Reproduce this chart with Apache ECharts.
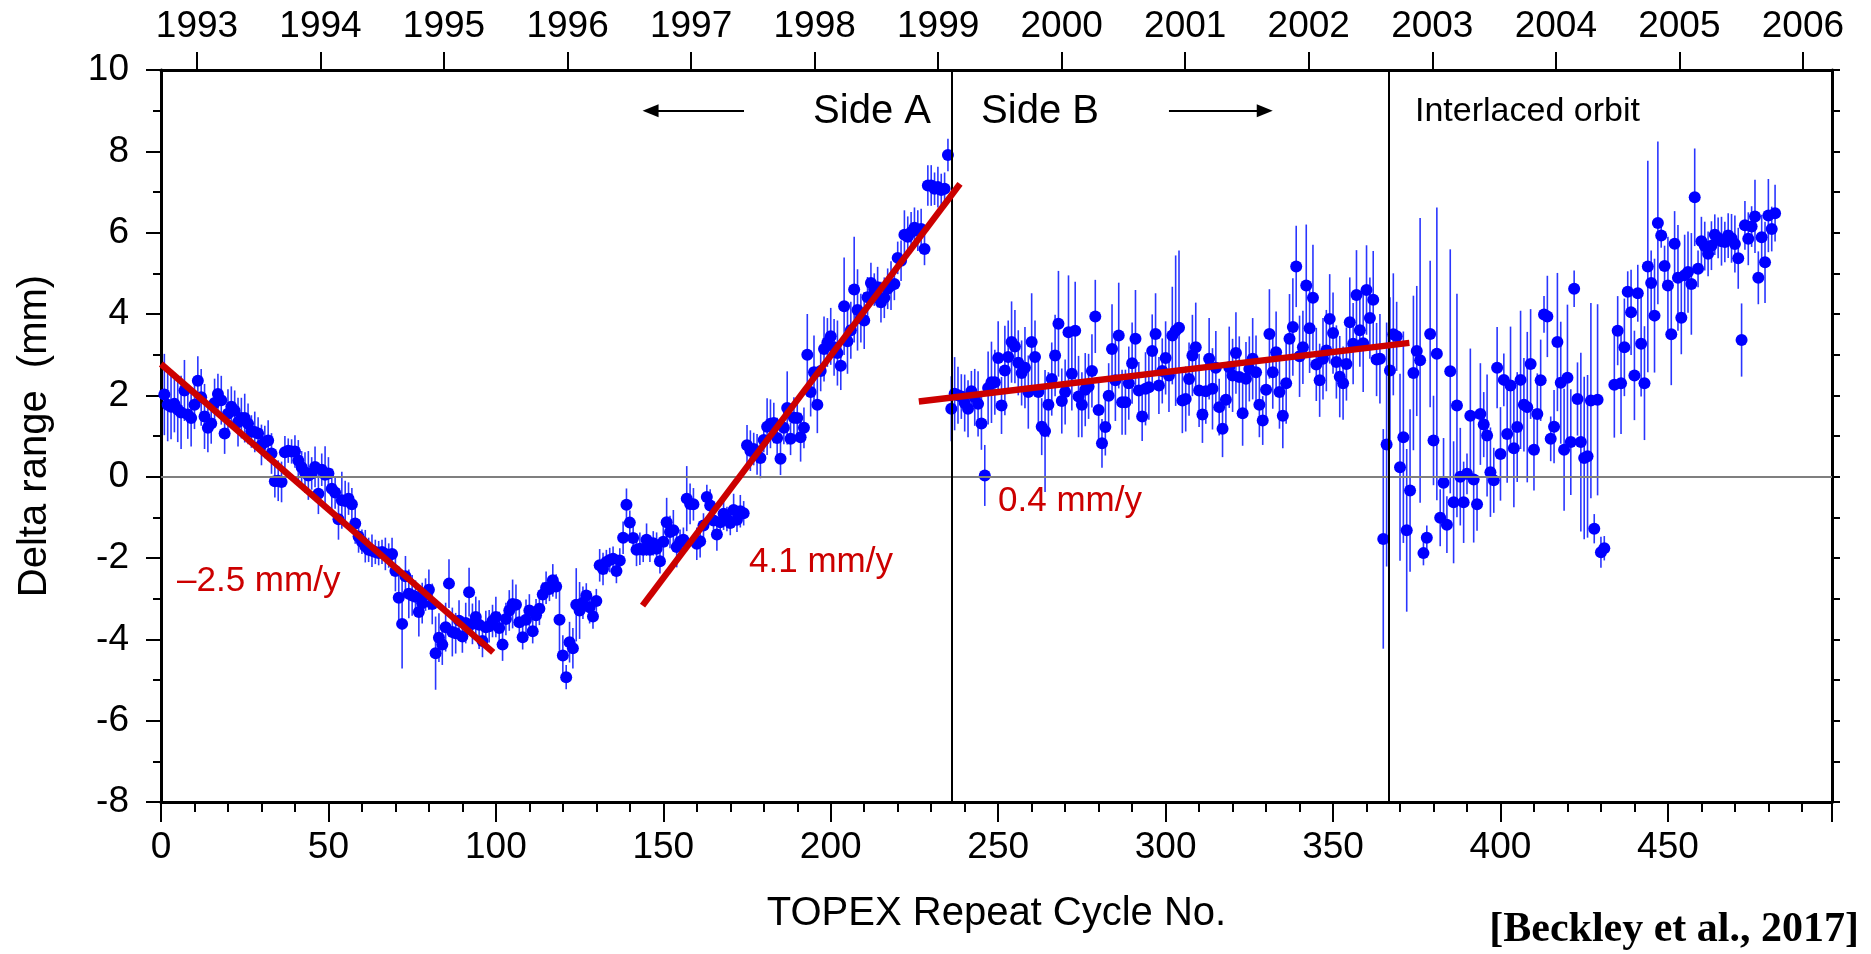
<!DOCTYPE html>
<html>
<head>
<meta charset="utf-8">
<script src="https://cdn.jsdelivr.net/npm/echarts@6/dist/echarts.min.js"></script>
<style>
html,body{margin:0;padding:0;background:#fff;}
#chart{width:1871px;height:954px;}
</style>
</head>
<body>
<div id="chart"></div>
<script>
// ---------------- DATA ----------------
// Side A : cycles 1 – 235
const sideAStart = 1;
const sideAValues = [
  2.02, 1.77, 1.72, 1.79, 1.65, 1.58, 2.12, 1.53, 1.44, 1.77,
  2.36, 1.95, 1.48, 1.20, 1.31, 1.81, 2.03, 1.88, 1.06, 1.55,
  1.72, 1.62, 1.34, 1.44, 1.44, 1.30, 1.11, 1.10, 1.06, 0.78,
  0.85, 0.89, 0.57, -0.11, -0.10, -0.13, 0.60, 0.64, 0.62, 0.62,
  0.40, 0.23, 0.10, 0.03, 0.08, 0.24, -0.42, 0.17, 0.05, 0.08,
  -0.30, -0.39, -1.05, -0.58, -0.60, -0.54, -0.68, -1.15, -1.47, -1.60,
  -1.71, -1.80, -1.82, -1.85, -1.88, -1.85, -1.90, -1.94, -1.90, -2.32,
  -2.98, -3.62, -2.45, -2.88, -2.92, -2.95, -3.33, -3.11, -2.90, -2.78,
  -3.13, -4.34, -3.96, -4.13, -3.70, -2.63, -3.82, -3.85, -3.54, -3.93,
  -3.60, -2.84, -3.62, -3.45, -3.64, -4.04, -3.70, -3.68, -3.55, -3.45,
  -3.72, -4.13, -3.50, -3.29, -3.13, -3.15, -3.58, -3.95, -3.52, -3.29,
  -3.80, -3.41, -3.25, -2.90, -2.73, -2.76, -2.55, -2.70, -3.52, -4.40,
  -4.93, -4.07, -4.22, -3.15, -3.29, -3.10, -2.92, -3.21, -3.44, -3.06,
  -2.18, -2.27, -2.10, -2.05, -2.02, -2.32, -2.06, -1.50, -0.69, -1.13,
  -1.51, -1.80, -1.77, -1.80, -1.55, -1.80, -1.64, -1.77, -2.08, -1.60,
  -1.12, -1.36, -1.32, -1.73, -1.60, -1.55, -0.54, -0.67, -0.68, -1.65,
  -1.59, -1.20, -0.50, -0.71, -1.08, -1.42, -1.12, -0.91, -1.04, -1.14,
  -0.82, -1.06, -0.85, -0.90, 0.77, 0.64, 0.68, 0.55, 0.46, 0.90,
  1.23, 1.30, 1.32, 0.95, 0.44, 1.20, 1.69, 0.93, 1.45, 1.44,
  0.97, 1.20, 3.00, 2.08, 2.57, 1.77, 2.60, 3.14, 3.30, 3.45,
  3.18, 3.04, 2.73, 4.19, 3.33, 3.60, 4.60, 4.10, 3.90, 3.84,
  4.41, 4.76, 4.60, 4.66, 4.29, 4.40, 4.62, 4.70, 4.74, 5.38,
  5.31, 5.95, 5.90, 6.01, 6.12, 6.05, 6.09, 5.60, 7.16, 7.16,
  7.08, 7.12, 7.05, 7.08, 7.91
];
const sideAErrors = [
  1.0, 0.9, 0.8, 0.7, 0.8, 0.9, 0.75, 0.6, 0.7, 0.6,
  0.6, 0.7, 0.8, 0.6, 0.5, 0.6, 0.5, 0.6, 0.5, 0.6,
  0.5, 0.5, 0.6, 0.5, 0.6, 0.5, 0.4, 0.5, 0.4, 0.5,
  0.4, 0.5, 0.5, 0.4, 0.5, 0.5, 0.4, 0.3, 0.3, 0.4,
  0.5, 0.4, 0.5, 0.6, 0.4, 0.5, 0.5, 0.4, 0.7, 0.4,
  0.5, 0.4, 0.5, 0.7, 0.5, 0.4, 0.4, 0.5, 0.4, 0.3,
  0.4, 0.3, 0.4, 0.3, 0.3, 0.3, 0.4, 0.3, 0.4, 0.5,
  0.6, 1.1, 0.5, 0.6, 0.5, 0.4, 0.6, 0.5, 0.4, 0.5,
  0.5, 0.9, 0.6, 0.5, 0.6, 0.6, 0.6, 0.5, 0.5, 0.4,
  0.5, 0.6, 0.5, 0.5, 0.6, 0.4, 0.4, 0.4, 0.4, 0.5,
  0.4, 0.4, 0.4, 0.5, 0.6, 0.5, 0.4, 0.3, 0.5, 0.4,
  0.3, 0.4, 0.4, 0.3, 0.4, 0.3, 0.4, 0.3, 0.9, 0.5,
  0.3, 0.5, 0.5, 0.9, 0.7, 0.4, 0.3, 0.4, 0.3, 0.3,
  0.4, 0.4, 0.3, 0.3, 0.3, 0.3, 0.3, 0.4, 0.4, 0.3,
  0.3, 0.4, 0.4, 0.3, 0.4, 0.3, 0.3, 0.4, 0.3, 0.4,
  0.6, 0.4, 0.5, 0.5, 0.3, 0.3, 0.8, 0.5, 0.4, 0.4,
  0.4, 0.3, 0.3, 0.4, 0.3, 0.4, 0.3, 0.4, 0.3, 0.3,
  0.4, 0.3, 0.4, 0.3, 0.5, 0.5, 0.4, 0.5, 0.5, 0.3,
  0.7, 0.6, 0.5, 0.5, 0.4, 0.4, 0.9, 0.4, 0.5, 0.5,
  0.6, 0.5, 1.0, 0.6, 0.9, 0.7, 0.5, 0.8, 0.6, 0.7,
  0.7, 0.8, 0.6, 1.2, 0.8, 0.7, 1.3, 1.0, 0.6, 0.7,
  0.5, 0.5, 0.4, 0.5, 0.5, 0.5, 0.5, 0.6, 0.4, 0.4,
  0.5, 0.6, 0.5, 0.5, 0.5, 0.5, 0.5, 0.4, 0.5, 0.5,
  0.4, 0.5, 0.4, 0.4, 0.4
];

// Side B : cycles 236 – 364
const sideBStart = 236;
const sideBValues = [
  1.67, 2.04, 2.00, 1.97, 1.81, 1.67, 2.10, 1.95, 1.79, 1.31,
  0.03, 2.18, 2.32, 2.32, 2.92, 1.75, 2.61, 2.94, 3.31, 3.20,
  2.80, 2.55, 2.68, 2.08, 3.31, 2.94, 2.08, 1.23, 1.12, 1.77,
  2.40, 2.98, 3.76, 1.86, 2.08, 3.55, 2.53, 3.59, 1.97, 1.77,
  2.14, 2.22, 2.60, 3.94, 1.64, 0.82, 1.22, 1.99, 3.14, 2.37,
  3.47, 1.83, 1.83, 2.30, 2.79, 3.39, 2.12, 1.48, 2.16, 2.20,
  3.09, 3.51, 2.24, 2.60, 2.92, 2.49, 3.47, 3.59, 3.66, 1.87,
  1.91, 2.40, 2.98, 3.18, 2.12, 1.53, 2.10, 2.90, 2.16, 2.68,
  1.71, 1.18, 1.89, 2.69, 2.49, 3.04, 2.45, 1.56, 2.41, 2.65,
  2.90, 2.57, 1.77, 1.38, 2.14, 3.51, 2.57, 3.06, 2.08, 1.50,
  2.30, 3.39, 3.68, 5.17, 2.96, 3.18, 4.70, 3.65, 4.40, 2.76,
  2.37, 2.90, 3.10, 3.88, 3.53, 2.82, 2.46, 2.30, 2.77, 3.80,
  3.27, 4.47, 3.60, 3.28, 4.59, 3.90, 4.35, 2.88, 2.90
];
const sideBErrors = [
  0.8, 0.9, 0.7, 0.55, 0.7, 0.7, 0.5, 0.7, 0.8, 0.65,
  0.75, 0.9, 1.0, 0.8, 0.9, 0.7, 1.1, 0.9, 1.0, 0.9,
  0.8, 0.8, 1.0, 0.9, 1.2, 0.9, 0.9, 0.7, 1.5, 0.8,
  0.9, 1.0, 1.3, 0.8, 0.8, 1.4, 0.9, 1.2, 1.0, 0.8,
  0.9, 0.8, 0.9, 0.9, 0.8, 0.6, 0.7, 0.8, 1.1, 1.0,
  1.3, 0.8, 0.8, 0.9, 1.0, 1.2, 0.7, 0.6, 0.9, 0.8,
  0.9, 1.0, 0.7, 0.8, 0.9, 0.9, 1.2, 1.85, 1.9, 0.8,
  0.8, 0.9, 1.0, 1.1, 0.9, 0.7, 0.8, 1.0, 1.0, 0.9,
  0.7, 0.7, 0.8, 1.0, 0.9, 1.0, 1.0, 0.8, 0.9, 0.8,
  1.0, 0.9, 0.8, 0.6, 0.8, 1.1, 0.9, 1.0, 0.9, 0.8,
  1.0, 1.1, 1.2, 1.0, 1.0, 0.9, 1.5, 1.1, 1.3, 0.9,
  0.9, 1.0, 1.0, 1.1, 1.0, 0.9, 1.0, 0.9, 0.9, 1.1,
  1.0, 1.1, 0.9, 1.2, 1.1, 1.0, 1.2, 0.9, 1.1
];

// Interlaced orbit : cycles 365 – 431 and 434 – 482
const interlacedAStart = 365;
const interlacedAValues = [
  -1.53, 0.79, 2.61, 3.50, 3.45, 0.23, 0.97, -1.32, -0.34, 2.55,
  3.09, 2.86, -1.88, -1.50, 3.51, 0.89, 3.02, -1.01, -0.15, -1.18,
  2.59, -0.63, 1.75, 0.00, -0.63, 0.07, 1.50, -0.07, -0.68, 1.54,
  1.28, 1.01, 0.11, -0.09, 2.68, 0.56, 2.38, 1.05, 2.24, 0.70,
  1.22, 2.38, 1.77, 1.71, 2.77, 0.66, 1.54, 2.37, 3.99, 3.94,
  0.93, 1.23, 3.31, 2.31, 0.66, 2.43, 0.85, 4.62, 1.91, 0.85,
  0.46, 0.50, 1.87, -1.28, 1.89, -1.86, -1.76
];
const interlacedAErrors = [
  2.7, 3.0, 1.8, 1.5, 0.85, 2.3, 2.6, 2.0, 2.0, 1.9,
  1.6, 3.5, 0.3, 0.3, 1.8, 1.1, 3.6, 0.7, 1.1, 0.7,
  3.0, 1.5, 2.75, 1.2, 1.0, 0.5, 1.65, 1.55, 0.65, 1.25,
  0.8, 1.5, 1.1, 0.8, 1.0, 1.15, 0.65, 1.2, 1.45, 1.45,
  1.35, 1.7, 1.15, 1.85, 1.35, 1.0, 1.0, 1.0, 0.45, 1.0,
  0.55, 0.9, 1.7, 1.5, 1.5, 1.8, 1.3, 0.45, 0.9, 2.2,
  2.0, 2.0, 2.4, 0.36, 2.35, 0.38, 0.3
];
const interlacedBStart = 434;
const interlacedBValues = [
  2.26, 3.59, 2.30, 3.18, 4.55, 4.04, 2.49, 4.51, 3.27, 2.30,
  5.17, 4.76, 3.96, 6.24, 5.93, 5.18, 4.70, 3.50, 5.73, 4.89,
  3.91, 4.95, 5.03, 4.74, 6.87, 5.11, 5.79, 5.67, 5.48, 5.68,
  5.95, 5.87, 5.79, 5.77, 5.93, 5.86, 5.72, 5.37, 3.36, 6.18,
  5.85, 6.15, 6.40, 4.89, 5.89, 5.27, 6.42, 6.09, 6.48
];
const interlacedBErrors = [
  1.3, 0.85, 1.25, 1.2, 0.5, 1.05, 1.1, 0.7, 1.3, 1.4,
  2.6, 0.8, 1.4, 2.0, 0.3, 0.5, 1.2, 1.25, 0.8, 1.3,
  0.9, 1.0, 1.0, 1.25, 1.2, 0.45, 0.6, 0.6, 0.55, 0.6,
  0.5, 0.5, 0.6, 0.5, 0.55, 0.6, 0.7, 0.75, 0.9, 0.6,
  0.65, 0.5, 0.9, 0.65, 0.55, 1.0, 0.9, 0.55, 0.7
];

// Linear trends (cycle, mm)
const trendLines = [
  { rate: '–2.5 mm/y', start: [0, 2.77],      end: [99.2, -4.32] },
  { rate: '4.1 mm/y',  start: [143.8, -3.17], end: [238.6, 7.20] },
  { rate: '0.4 mm/y',  start: [226.3, 1.85],  end: [372.8, 3.29] }
];

// Events (cycle number)
const sideSwitchCycle = 236.2;
const interlacedCycle = 366.7;

// Axes
const cycleMin = 0, cycleMax = 499, cycleTickStep = 50;
const deltaMin = -8, deltaMax = 10, deltaLabelStep = 2;
const yearTicks = [1993, 1994, 1995, 1996, 1997, 1998, 1999, 2000, 2001, 2002, 2003, 2004, 2005, 2006];
const yearAtCycleZero = 1992.7089;
const cyclesPerYear = 36.89;

// ---------------- CHART ----------------
function segment(start, values, errors) {
  return values.map((v, i) => [start + i, v, errors[i]]);
}
const points = [].concat(
  segment(sideAStart, sideAValues, sideAErrors),
  segment(sideBStart, sideBValues, sideBErrors),
  segment(interlacedAStart, interlacedAValues, interlacedAErrors),
  segment(interlacedBStart, interlacedBValues, interlacedBErrors)
);

const FONT = "'Liberation Sans', Arial, Helvetica, sans-serif";
const RED = '#cc0000';
const chart = echarts.init(document.getElementById('chart'), null, { renderer: 'canvas' });

const yearMin = yearAtCycleZero;
const yearMax = yearAtCycleZero + cycleMax / cyclesPerYear;

const trendSeries = trendLines.map(t => ({
  type: 'line',
  name: t.rate,
  data: [t.start, t.end],
  symbol: 'none',
  silent: true,
  z: 6,
  lineStyle: { color: RED, width: 6.5, cap: 'butt' }
}));

const option = {
  animation: false,
  backgroundColor: '#ffffff',
  grid: { left: 161, right: 39, top: 70, bottom: 152, containLabel: false, outerBoundsMode: 'none' },
  xAxis: [
    {
      type: 'value', position: 'bottom', min: cycleMin, max: cycleMax, interval: cycleTickStep,
      name: 'TOPEX Repeat Cycle No.', nameLocation: 'middle', nameGap: 92,
      nameTextStyle: { fontFamily: FONT, fontSize: 40, color: '#000' },
      axisLine: { show: true, onZero: false, lineStyle: { color: '#000', width: 3 } },
      axisTick: { show: true, inside: false, length: 20, lineStyle: { color: '#000', width: 2 } },
      minorTick: { show: true, splitNumber: 5, length: 10, lineStyle: { color: '#000', width: 2 } },
      axisLabel: { fontFamily: FONT, fontSize: 37, color: '#000', margin: 27, showMaxLabel: false },
      splitLine: { show: false }
    },
    {
      type: 'value', position: 'top', min: yearMin, max: yearMax,
      axisLine: { show: true, onZero: false, lineStyle: { color: '#000', width: 3 } },
      axisTick: { show: true, inside: false, length: 18, customValues: yearTicks, lineStyle: { color: '#000', width: 2 } },
      axisLabel: { fontFamily: FONT, fontSize: 37, color: '#000', margin: 25, customValues: yearTicks,
        formatter: v => String(Math.round(v)) },
      splitLine: { show: false }
    }
  ],
  yAxis: [
    {
      type: 'value', position: 'left', min: deltaMin, max: deltaMax, interval: deltaLabelStep,
      name: 'Delta range  (mm)', nameLocation: 'middle', nameGap: 106, nameRotate: 90,
      nameTextStyle: { fontFamily: FONT, fontSize: 40, color: '#000' },
      axisLine: { show: true, onZero: false, lineStyle: { color: '#000', width: 3 } },
      axisTick: { show: true, inside: false, length: 15, lineStyle: { color: '#000', width: 2 } },
      minorTick: { show: true, splitNumber: 2, length: 8, lineStyle: { color: '#000', width: 2 } },
      axisLabel: { fontFamily: FONT, fontSize: 37, color: '#000', margin: 32 },
      splitLine: { show: false }
    },
    {
      type: 'value', position: 'right', min: deltaMin, max: deltaMax, interval: 1,
      axisLine: { show: true, onZero: false, lineStyle: { color: '#000', width: 3 } },
      axisTick: { show: true, inside: false, length: 8, lineStyle: { color: '#000', width: 2 } },
      axisLabel: { show: false },
      splitLine: { show: false }
    }
  ],
  series: [
    {
      // reference lines: zero, Side A/B switch, interlaced orbit start
      type: 'line', data: [], silent: true, z: 1,
      markLine: {
        silent: true, symbol: 'none', animation: false,
        label: { show: false },
        data: [
          { yAxis: 0, lineStyle: { color: '#7f7f7f', width: 2, type: 'solid' } },
          { xAxis: sideSwitchCycle, lineStyle: { color: '#000', width: 2, type: 'solid' } },
          { xAxis: interlacedCycle, lineStyle: { color: '#000', width: 2, type: 'solid' } }
        ]
      }
    },
    {
      type: 'custom', name: 'errors', data: points, z: 3, silent: true,
      encode: { x: 0, y: 1 },
      renderItem: function (params, api) {
        const c = api.value(0), v = api.value(1), e = api.value(2);
        const p1 = api.coord([c, v + e]);
        const p2 = api.coord([c, v - e]);
        return {
          type: 'line',
          shape: { x1: p1[0], y1: p1[1], x2: p2[0], y2: p2[1] },
          style: { stroke: '#2a36ff', lineWidth: 1.6 }
        };
      }
    },
    {
      type: 'scatter', name: 'Delta range', data: points.map(p => [p[0], p[1]]),
      symbol: 'circle', symbolSize: 12, z: 4, silent: true,
      itemStyle: { color: '#0000ff', opacity: 1 }
    },
    ...trendSeries,
    {
      // direction arrows next to Side A / Side B
      type: 'line', data: [], silent: true, z: 5,
      markLine: {
        silent: true, animation: false,
        symbol: ['none', 'triangle'], symbolSize: [13, 16],
        label: { show: false },
        lineStyle: { color: '#000', width: 2, type: 'solid' },
        data: [
          [{ coord: [174.1, 9.0] }, { coord: [146.2, 9.0] }],
          [{ coord: [301.0, 9.0] }, { coord: [329.6, 9.0] }]
        ]
      }
    }
  ],
  graphic: [
    { type: 'text', x: 872, y: 112, z: 10, style: { text: 'Side A', font: '40px ' + FONT, fill: '#000', align: 'center', verticalAlign: 'middle', textAlign: 'center', textVerticalAlign: 'middle' } },
    { type: 'text', x: 1040, y: 112, z: 10, style: { text: 'Side B', font: '40px ' + FONT, fill: '#000', align: 'center', verticalAlign: 'middle', textAlign: 'center', textVerticalAlign: 'middle' } },
    { type: 'text', x: 1415, y: 112, z: 10, style: { text: 'Interlaced orbit', font: '34px ' + FONT, fill: '#000', align: 'left', verticalAlign: 'middle', textAlign: 'left', textVerticalAlign: 'middle' } },
    { type: 'text', x: 177, y: 581, z: 10, style: { text: trendLines[0].rate, font: '35px ' + FONT, fill: RED, align: 'left', verticalAlign: 'middle', textAlign: 'left', textVerticalAlign: 'middle' } },
    { type: 'text', x: 749, y: 562, z: 10, style: { text: trendLines[1].rate, font: '35px ' + FONT, fill: RED, align: 'left', verticalAlign: 'middle', textAlign: 'left', textVerticalAlign: 'middle' } },
    { type: 'text', x: 998, y: 501, z: 10, style: { text: trendLines[2].rate, font: '35px ' + FONT, fill: RED, align: 'left', verticalAlign: 'middle', textAlign: 'left', textVerticalAlign: 'middle' } },
    { type: 'text', x: 1859, y: 930, z: 10, style: { text: '[Beckley et al., 2017]', font: "bold 42px 'Liberation Serif', 'Times New Roman', serif", fill: '#000', align: 'right', verticalAlign: 'middle', textAlign: 'right', textVerticalAlign: 'middle' } }
  ]
};
chart.setOption(option);
</script>
</body>
</html>
